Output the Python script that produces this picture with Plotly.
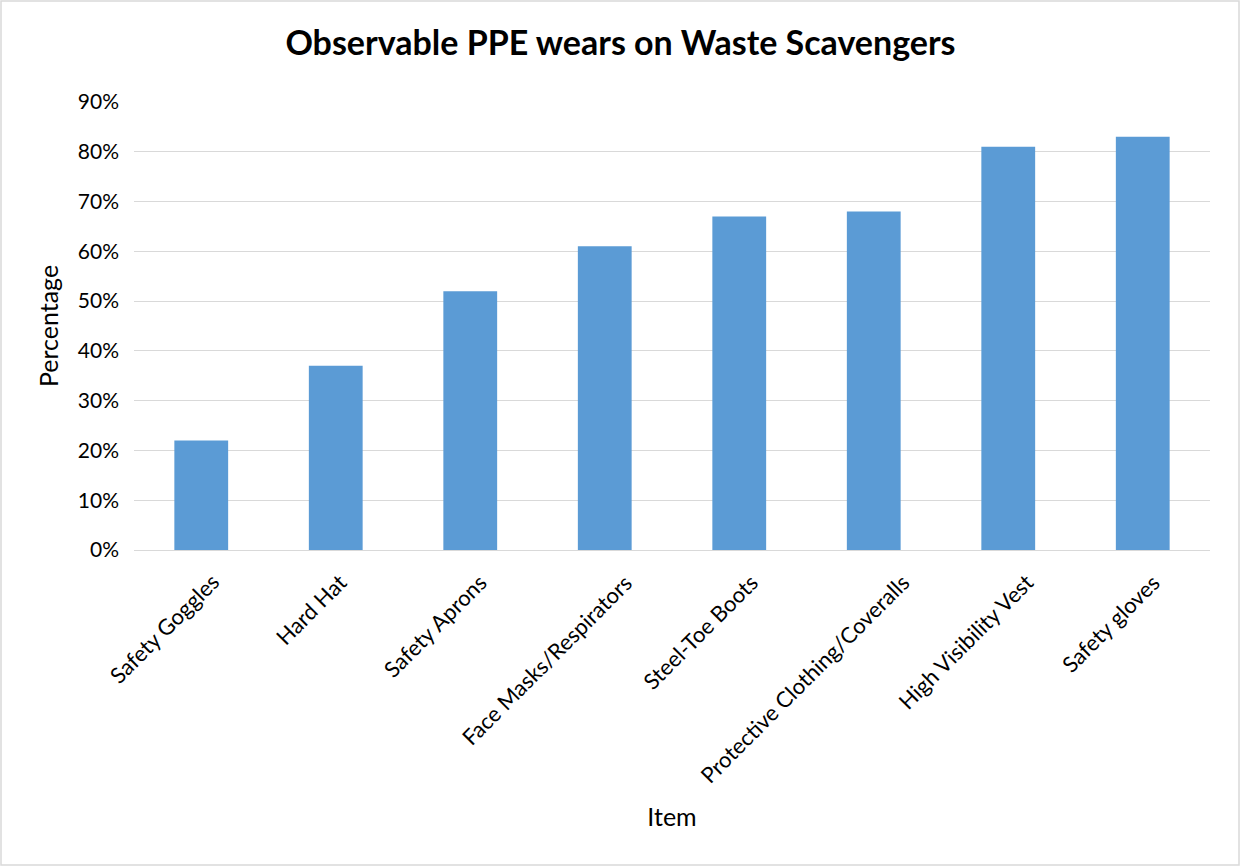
import plotly.graph_objects as go

# PPE items and share of scavengers observed wearing each
items = [
    "Safety Goggles",
    "Hard Hat",
    "Safety Aprons",
    "Face Masks/Respirators",
    "Steel-Toe Boots",
    "Protective Clothing/Coveralls",
    "High Visibility Vest",
    "Safety gloves",
]
percentages = [0.22, 0.37, 0.52, 0.61, 0.67, 0.68, 0.81, 0.83]
y_ticks = [0, 0.1, 0.2, 0.3, 0.4, 0.5, 0.6, 0.7, 0.8, 0.9]

FONT = "Lato, Open Sans, sans-serif"
W, H = 1241, 867
L, R, T, B = 134, 31, 102, 317
pw, ph = W - L - R, H - T - B

fig = go.Figure(
    go.Bar(
        x=items,
        y=percentages,
        marker=dict(color="#5b9bd5", line=dict(width=0)),
        width=0.4,
    )
)

# slanted category labels; longer labels sit a little further right,
# the way spreadsheet charts lay out rotated category text
for name in items:
    fig.add_annotation(
        x=name, y=0, xref="x", yref="y",
        text=name, showarrow=False,
        textangle=-45,
        xanchor="right", yanchor="top",
        xshift=1.2 * len(name) + 9, yshift=-16,
        font=dict(family=FONT, size=22, color="black"),
    )

# thin frame around the whole chart
fig.add_shape(
    type="rect", xref="paper", yref="paper",
    x0=(1 - L) / pw, x1=(W - 2 - L) / pw,
    y0=(T + ph - (H - 2)) / ph,
    y1=(T + ph - 1) / ph,
    line=dict(color="#d9d9d9", width=1.5),
    layer="below",
)

fig.update_layout(
    width=W,
    height=H,
    margin=dict(l=L, r=R, t=T, b=B),
    paper_bgcolor="white",
    plot_bgcolor="white",
    showlegend=False,
    title=dict(
        text="<b>Observable PPE wears on Waste Scavengers</b>",
        x=0.5, xanchor="center",
        y=1 - 43 / H, yanchor="middle",
        font=dict(family=FONT, size=34, color="black"),
    ),
    font=dict(family=FONT, color="#000000"),
)

fig.update_xaxes(
    range=[-0.5, len(items) - 0.5],
    showticklabels=False,
    title=dict(text="Item", font=dict(family=FONT, size=25, color="black"), standoff=258),
    showline=False,
    showgrid=False,
    ticks="",
)

fig.update_yaxes(
    range=[0, 0.9],
    tickvals=y_ticks,
    tickformat=".0%",
    tickfont=dict(family=FONT, size=21, color="black"),
    title=dict(text="Percentage", font=dict(family=FONT, size=25, color="black"), standoff=12),
    showgrid=True,
    gridcolor="#d9d9d9",
    gridwidth=1.3,
    zeroline=True,
    zerolinecolor="#d9d9d9",
    zerolinewidth=1.3,
    ticks="",
    ticklabelstandoff=14,
)

fig.write_html("out.html")
